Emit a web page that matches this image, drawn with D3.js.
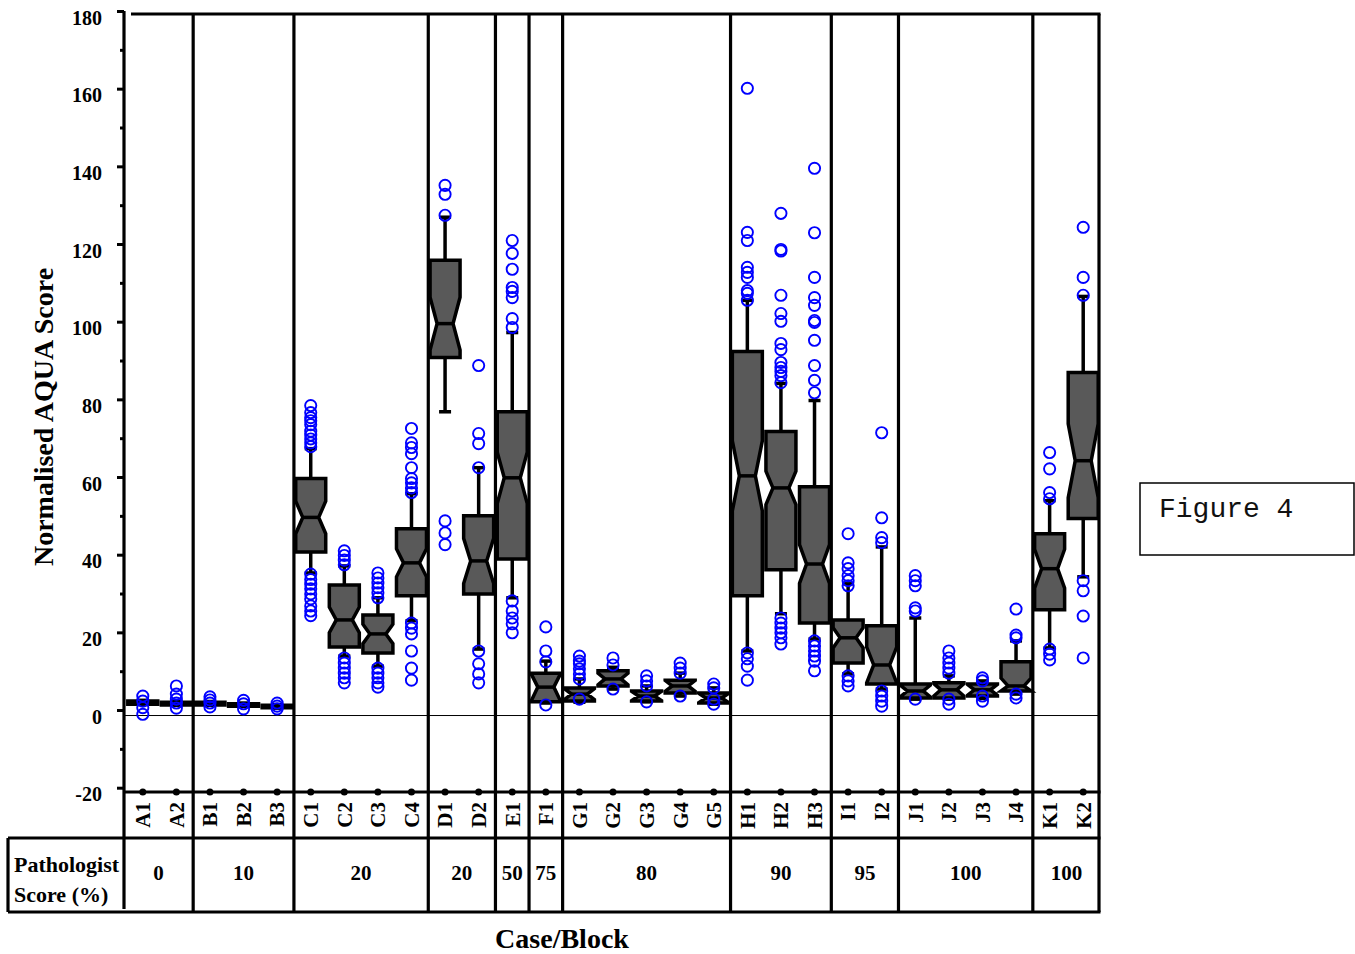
<!DOCTYPE html>
<html>
<head>
<meta charset="utf-8">
<script src="https://cdn.jsdelivr.net/npm/d3@7/dist/d3.min.js"></script>
<style>
  html, body { margin: 0; padding: 0; background: #fff; }
  svg { display: block; }
</style>
</head>
<body>
<svg id="chart" width="1355" height="954"></svg>
<script>
// ---- Data: AQUA score distributions per case/block ----
const cases = ["A1","A2","B1","B2","B3","C1","C2","C3","C4","D1","D2","E1","F1",
  "G1","G2","G3","G4","G5","H1","H2","H3","I1","I2","J1","J2","J3","J4","K1","K2"];

const groups = ["A","B","C","D","E","F","G","H","I","J","K"];
const groupScores = ["0","10","20","20","50","75","80","90","95","100","100"];

const q1 = [1.5,1.3,1.3,1.0,0.6, 40.7,16.2,14.7,29.4, 90.8,29.9, 38.9, 2.1,
  2.3,6.2,2.3,4.4,1.8, 29.4,36.1,22.4, 12.1,6.7, 3.1,3.1,3.6,4.9, 25.8,49.3];
const medians = [1.9,1.6,1.6,1.3,0.9, 49.6,23.2,19.6,37.9, 99.5,38.4, 59.8, 5.9,
  4.1,8.0,3.6,6.2,3.1, 60.3,57.2,37.6, 18.6,11.6, 4.9,5.2,5.2,6.2, 36.4,64.2];
const q3 = [2.3,2.0,2.0,1.6,1.2, 59.6,32.2,24.5,46.7, 115.8,50.0, 76.8, 9.5,
  5.7,10.1,4.9,7.7,4.4, 92.3,71.7,57.5, 23.2,21.7, 6.7,7.0,6.7,12.4, 45.4,86.9];
const whiskerLow = [1.4,1.2,1.2,0.9,0.5, 35.3,13.9,11.3,23.0, 76.8,15.7, 28.9, 1.8,
  2.0,5.4,2.1,3.6,1.5, 15.2,24.8,18.3, 9.3,5.4, 2.8,2.8,3.0,4.1, 16.0,34.3];
const whiskerHigh = [2.5,2.2,2.2,1.8,1.4, 67.3,37.1,28.9,55.7, 126.9,62.4, 97.2, 12.6,
  8.0,11.0,6.2,9.5,5.7, 105.5,84.1,79.7, 32.5,42.0, 23.7,8.8,7.5,17.8, 53.9,106.5];
const notchHalf = [0.2,0.2,0.2,0.2,0.2, 4.2,3.3,2.5,3.6, 6.8,5.8, 6.6, 4.0,
  1.4,1.5,1.2,1.4,1.2, 9.0,4.3,5.0, 2.6,4.6, 1.5,1.6,1.4,2.0, 5.0,9.5];
const outliers = [
  [3.6, 2.3, 0.6, -1.1],
  [6.2, 4.1, 2.8, 1.8, 0.5],
  [3.4, 2.6, 1.8, 0.8],
  [2.5, 1.6, 0.3],
  [1.8, 1.0, 0.3],
  [78.4, 76.6, 75.3, 74.5, 73.5, 71.8, 70.8, 69.8, 68.8, 67.8, 35.0, 33.6, 32.4, 31.2, 29.9, 28.6, 26.8, 25.5, 24.3],
  [41.0, 39.8, 38.6, 37.4, 13.4, 12.1, 10.8, 9.5, 8.3, 7.0],
  [35.3, 34.0, 32.7, 31.5, 30.2, 28.9, 10.8, 9.5, 8.3, 7.0, 5.9],
  [72.5, 68.8, 67.6, 66.0, 62.4, 59.6, 58.5, 57.2, 56.0, 22.4, 21.1, 19.6, 15.2, 10.8, 7.7],
  [135.1, 132.8, 127.4, 48.7, 45.6, 42.6],
  [88.7, 71.2, 68.6, 62.4, 15.2, 11.9, 9.3, 7.0],
  [120.9, 117.6, 113.5, 108.8, 107.8, 106.2, 100.8, 98.5, 28.1, 25.5, 23.7, 22.2, 19.9],
  [21.4, 15.2, 12.4, 1.3],
  [13.9, 12.6, 11.9, 10.6, 9.3, 8.0, 2.8],
  [13.4, 11.6, 5.4],
  [8.8, 7.5, 6.2, 2.1],
  [12.1, 10.8, 9.5, 3.6],
  [6.7, 5.7, 2.8, 1.5],
  [160.1, 123.0, 120.9, 114.0, 112.7, 111.4, 108.0, 107.3, 105.5, 14.7, 13.2, 11.3, 7.7],
  [127.9, 118.6, 118.2, 106.8, 102.1, 100.1, 94.4, 92.8, 89.5, 88.2, 87.2, 86.1, 84.3, 23.7, 22.4, 21.1, 19.9, 18.6, 17.0],
  [139.5, 122.9, 111.4, 106.2, 104.2, 100.3, 99.8, 95.2, 88.7, 84.9, 81.7, 17.8, 16.5, 15.2, 13.9, 12.6, 10.1],
  [45.4, 37.9, 36.4, 34.6, 33.3, 32.0, 8.8, 7.5, 6.2],
  [71.4, 49.5, 44.4, 43.1, 4.9, 3.6, 2.3, 1.0],
  [34.6, 33.3, 32.0, 26.3, 25.5, 2.8],
  [15.2, 13.4, 12.1, 10.8, 9.5, 2.8, 1.5],
  [8.3, 7.5, 3.6, 2.3],
  [26.0, 19.3, 18.6, 4.1, 3.1],
  [66.3, 62.1, 56.0, 54.4, 15.7, 14.4, 12.9],
  [124.3, 111.4, 106.8, 33.3, 30.7, 24.2, 13.4]
];

const yTicksMajor = [-20, 0, 20, 40, 60, 80, 100, 120, 140, 160, 180];
const yTicksMinor = [-10, 10, 30, 50, 70, 90, 110, 130, 150, 170];

// ---- Layout ----
const svg = d3.select("#chart");
const serif = "'Liberation Serif', 'Times New Roman', Times, serif";
const axisX = 124;
const plotTop = 14;
const frameBottom = 792;     // thick line under the plot area
const labelRowBottom = 838;  // top of the pathologist table
const tableBottom = 912;
const tableLeft = 8;
const rightEdge = 1099;

const y = d3.scaleLinear().domain([-20, 180]).range([787.7, 11]);
const x = d3.scaleBand().domain(cases).range([126, 1100]).padding(0);
const cx = c => x(c) + x.bandwidth() / 2;
const boxHalf = 15;
const notchIndent = 7;
const capHalf = 6;

const groupOf = c => c[0];

// ---- Zero reference line ----
svg.append("line")
  .attr("x1", axisX).attr("x2", rightEdge)
  .attr("y1", y(0) + 5.5).attr("y2", y(0) + 5.5)
  .attr("stroke", "#000").attr("stroke-width", 1);

// ---- Y axis ----
const yAxis = d3.axisLeft(y).tickValues(yTicksMajor).tickSize(7).tickPadding(15)
  .tickFormat(d => String(d));
const gy = svg.append("g").attr("transform", `translate(${axisX},0)`).call(yAxis);
gy.select(".domain").remove();
gy.selectAll(".tick line").attr("stroke", "#000").attr("stroke-width", 3);
gy.selectAll(".tick text")
  .attr("font-family", serif).attr("font-weight", "bold").attr("font-size", 20)
  .attr("fill", "#000").attr("dy", "0.66em");
const yMinor = d3.axisLeft(y).tickValues(yTicksMinor).tickSize(4).tickFormat("");
const gyMinor = svg.append("g").attr("transform", `translate(${axisX},0)`).call(yMinor);
gyMinor.select(".domain").remove();
gyMinor.selectAll(".tick line").attr("stroke", "#000").attr("stroke-width", 3);

// ---- Frame lines ----
const frame = svg.append("g").attr("stroke", "#000").attr("stroke-width", 3.2);
frame.append("line").attr("x1", axisX).attr("x2", axisX).attr("y1", y(180)).attr("y2", tableBottom - 3);
frame.append("line").attr("x1", axisX + 7).attr("x2", rightEdge + 1.5).attr("y1", plotTop).attr("y2", plotTop);
frame.append("line").attr("x1", axisX).attr("x2", rightEdge + 1.5).attr("y1", frameBottom).attr("y2", frameBottom);
frame.append("line").attr("x1", tableLeft).attr("x2", rightEdge + 1.5).attr("y1", labelRowBottom).attr("y2", labelRowBottom);
frame.append("line").attr("x1", tableLeft).attr("x2", rightEdge + 1.5).attr("y1", tableBottom).attr("y2", tableBottom);
frame.append("line").attr("x1", tableLeft).attr("x2", tableLeft).attr("y1", labelRowBottom).attr("y2", tableBottom);
frame.append("line").attr("x1", rightEdge).attr("x2", rightEdge).attr("y1", plotTop).attr("y2", tableBottom);

// group separators at band boundaries
const groupFirst = groups.map(g => cases.find(c => groupOf(c) === g));
const groupLast = groups.map(g => cases.filter(c => groupOf(c) === g).slice(-1)[0]);
groupFirst.slice(1).forEach(c => {
  frame.append("line").attr("x1", x(c)).attr("x2", x(c))
    .attr("y1", plotTop).attr("y2", tableBottom);
});

// ---- Boxes ----
const boxes = svg.append("g");
cases.forEach((c, i) => {
  const xc = cx(c);
  const g = boxes.append("g");
  // whiskers
  g.append("line").attr("x1", xc).attr("x2", xc).attr("y1", y(q3[i])).attr("y2", y(whiskerHigh[i]))
    .attr("stroke", "#000").attr("stroke-width", 3.5);
  g.append("line").attr("x1", xc).attr("x2", xc).attr("y1", y(q1[i])).attr("y2", y(whiskerLow[i]))
    .attr("stroke", "#000").attr("stroke-width", 3.5);
  [whiskerHigh[i], whiskerLow[i]].forEach(v => {
    g.append("line").attr("x1", xc - capHalf).attr("x2", xc + capHalf)
      .attr("y1", y(v)).attr("y2", y(v))
      .attr("stroke", "#000").attr("stroke-width", 3.5);
  });
  // notched box
  const nHi = Math.min(q3[i], medians[i] + notchHalf[i]);
  const nLo = Math.max(q1[i], medians[i] - notchHalf[i]);
  const L = xc - boxHalf, R = xc + boxHalf;
  const p = d3.path();
  p.moveTo(L, y(q3[i]));
  p.lineTo(R, y(q3[i]));
  p.lineTo(R, y(nHi));
  p.lineTo(R - notchIndent, y(medians[i]));
  p.lineTo(R, y(nLo));
  p.lineTo(R, y(q1[i]));
  p.lineTo(L, y(q1[i]));
  p.lineTo(L, y(nLo));
  p.lineTo(L + notchIndent, y(medians[i]));
  p.lineTo(L, y(nHi));
  p.closePath();
  g.append("path").attr("d", p.toString())
    .attr("fill", "#595959").attr("stroke", "#000").attr("stroke-width", 3.5)
    .attr("stroke-linejoin", "miter");
  g.append("line").attr("x1", L + notchIndent).attr("x2", R - notchIndent)
    .attr("y1", y(medians[i])).attr("y2", y(medians[i]))
    .attr("stroke", "#000").attr("stroke-width", 3.5);
});

// ---- Outliers ----
const pts = svg.append("g");
cases.forEach((c, i) => {
  pts.selectAll(null).data(outliers[i]).join("circle")
    .attr("cx", cx(c)).attr("cy", d => y(d)).attr("r", 5.6)
    .attr("fill", "none").attr("stroke", "#0000ff").attr("stroke-width", 1.9);
});

// ---- Category axis ----
svg.append("g").selectAll("circle").data(cases).join("circle")
  .attr("cx", d => cx(d)).attr("cy", frameBottom).attr("r", 3.5).attr("fill", "#000");
svg.append("g").selectAll("text").data(cases).join("text")
  .attr("transform", d => `translate(${cx(d)},${frameBottom + 10}) rotate(-90)`)
  .attr("text-anchor", "end").attr("dy", "0.35em")
  .attr("font-family", serif).attr("font-weight", "bold").attr("font-size", 21)
  .attr("fill", "#000").text(d => d);

// ---- Pathologist score row ----
const table = svg.append("g").attr("font-family", serif).attr("font-weight", "bold")
  .attr("font-size", 21).attr("fill", "#000");
table.append("text").attr("x", 14).attr("y", 872).attr("font-size", 22).text("Pathologist");
table.append("text").attr("x", 14).attr("y", 902).attr("font-size", 22).text("Score (%)");
groups.forEach((g, k) => {
  const left = k === 0 ? axisX : x(groupFirst[k]);
  const right = x(groupLast[k]) + x.bandwidth();
  table.append("text").attr("x", (left + right) / 2).attr("y", 880)
    .attr("text-anchor", "middle").text(groupScores[k]);
});

// ---- Axis titles ----
svg.append("text").attr("x", 562).attr("y", 948).attr("text-anchor", "middle")
  .attr("font-family", serif).attr("font-weight", "bold").attr("font-size", 28)
  .text("Case/Block");
svg.append("text").attr("transform", "translate(53,417) rotate(-90)")
  .attr("text-anchor", "middle")
  .attr("font-family", serif).attr("font-weight", "bold").attr("font-size", 28)
  .text("Normalised AQUA Score");

// ---- Figure tag ----
svg.append("rect").attr("x", 1140).attr("y", 483).attr("width", 214).attr("height", 72)
  .attr("fill", "#fff").attr("stroke", "#000").attr("stroke-width", 1.5);
svg.append("text").attr("x", 1159).attr("y", 517)
  .attr("font-family", "'Liberation Mono', 'Courier New', monospace").attr("font-size", 28)
  .attr("fill", "#111").text("Figure 4");
</script>
</body>
</html>
